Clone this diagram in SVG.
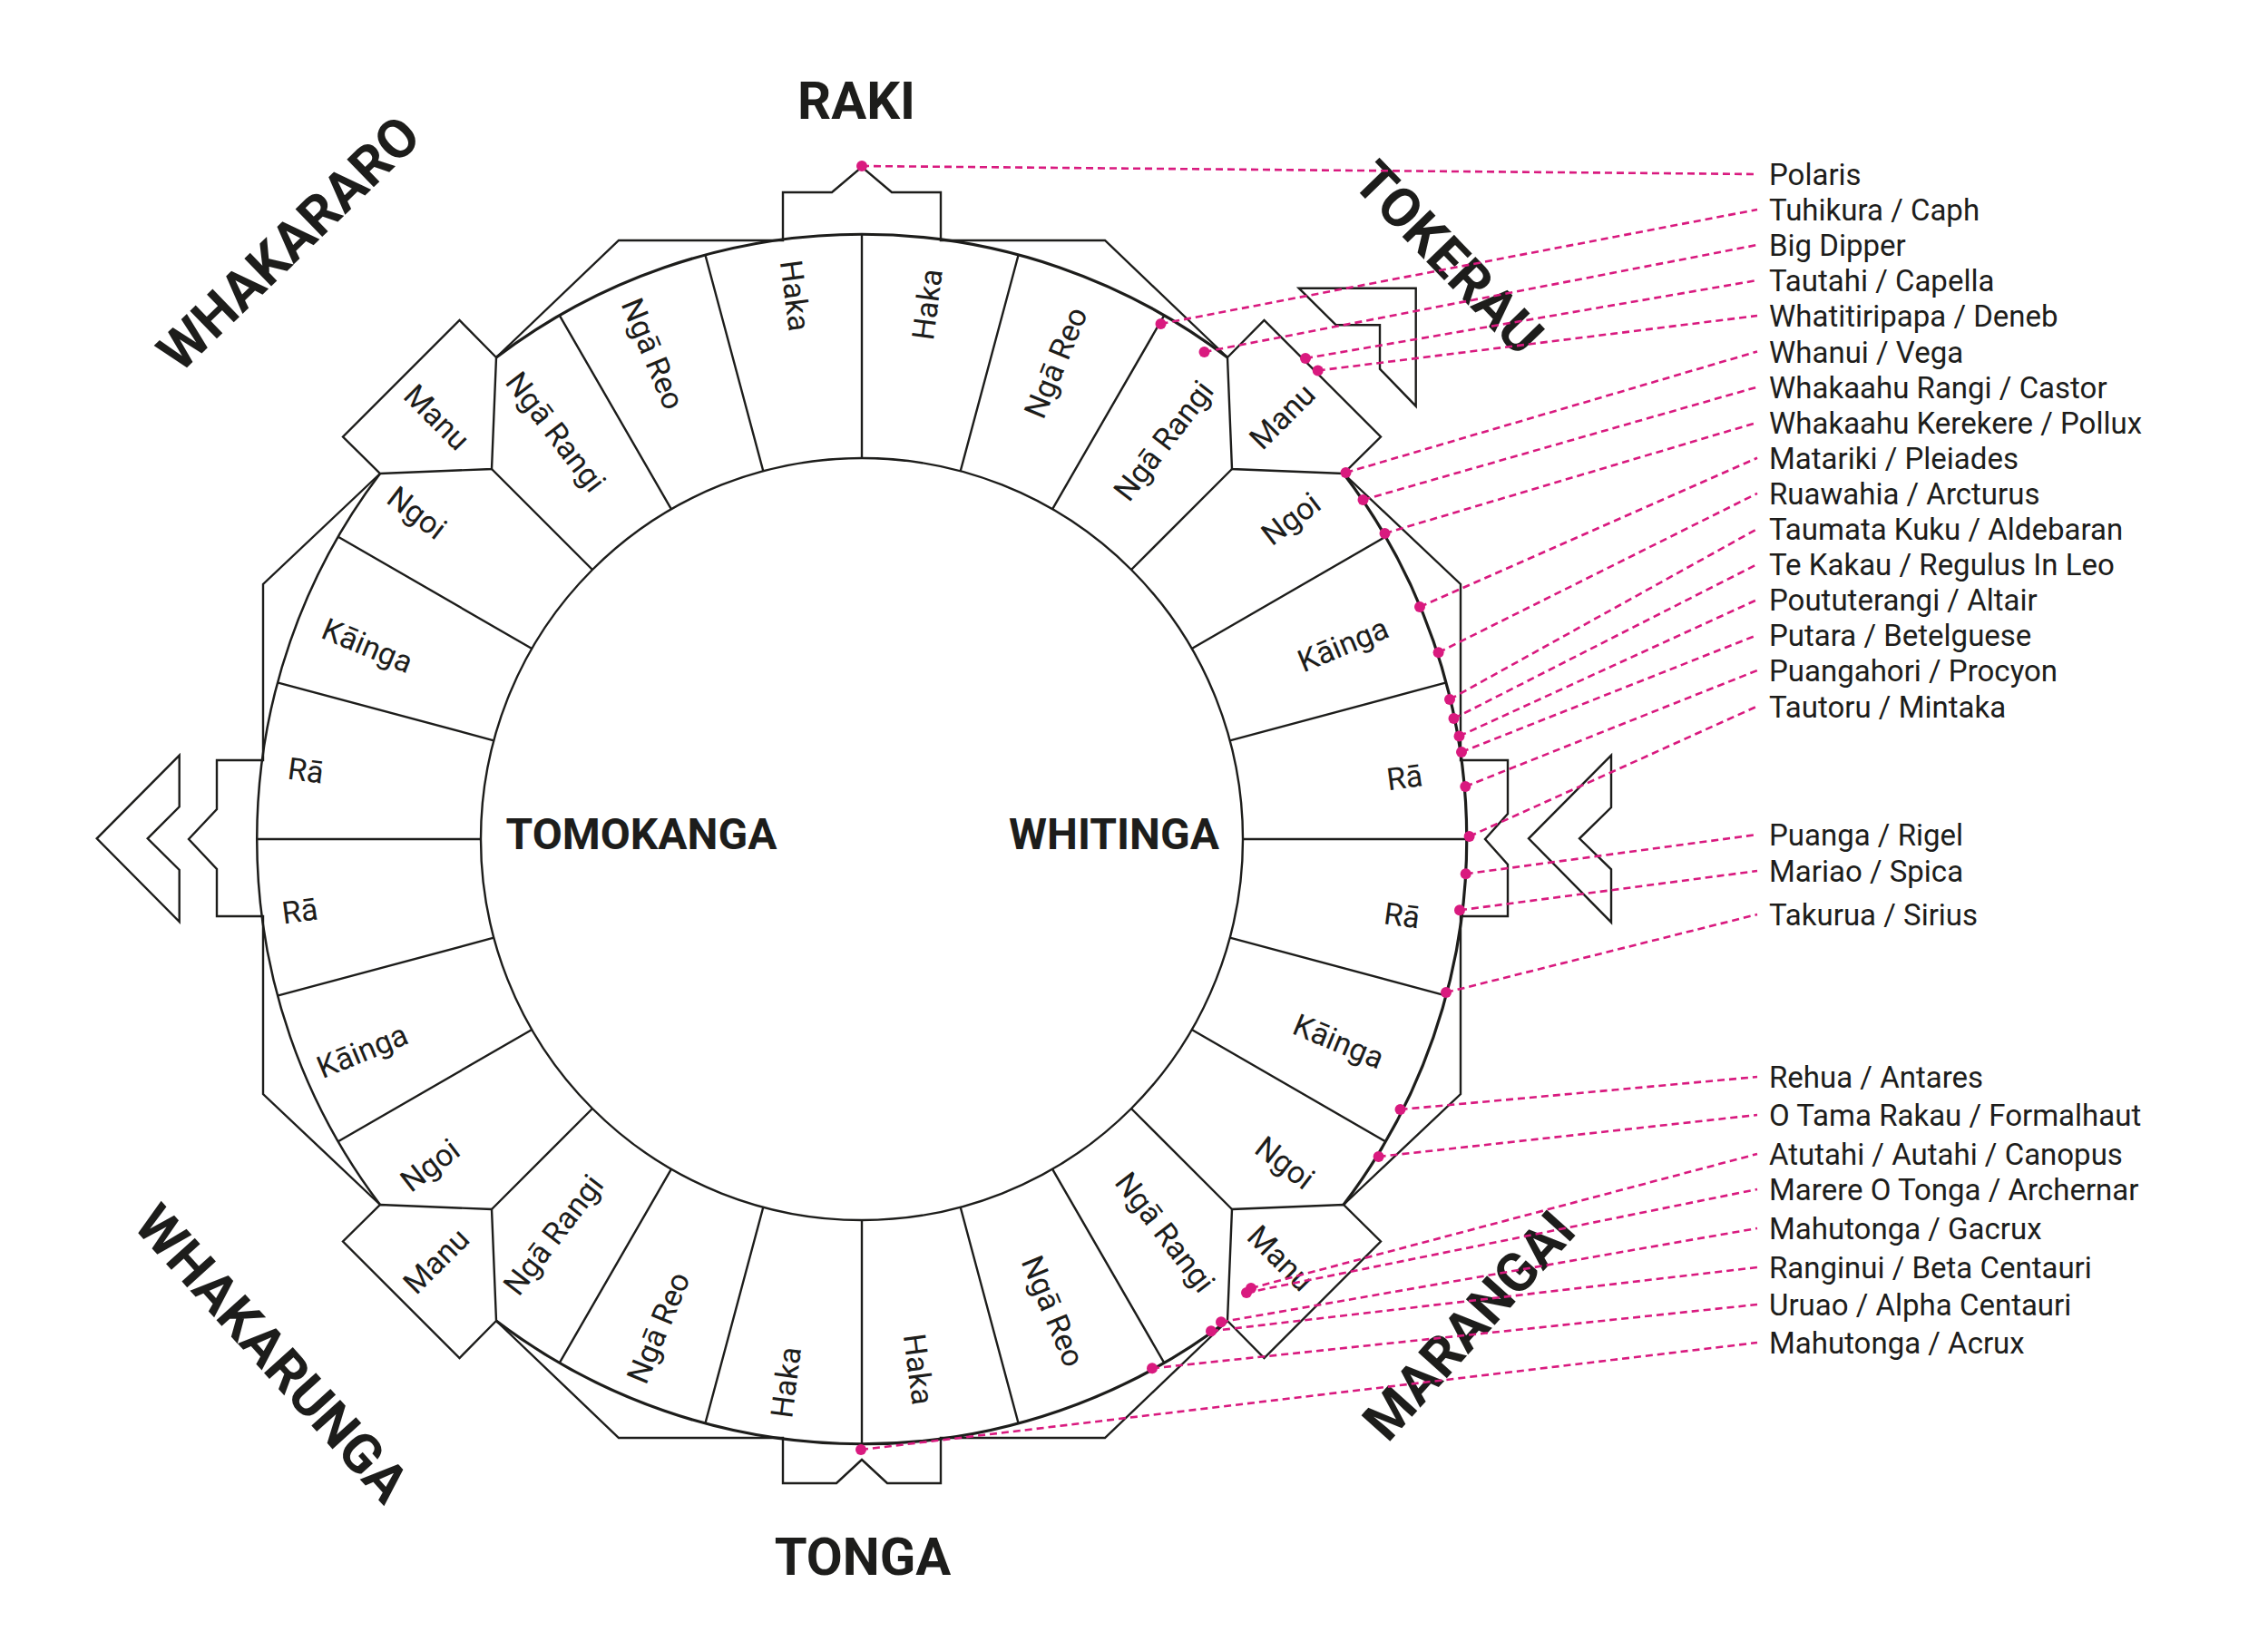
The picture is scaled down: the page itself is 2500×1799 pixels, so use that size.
<svg xmlns="http://www.w3.org/2000/svg" width="2500" height="1799" viewBox="0 0 2500 1799">
<style>
.ln{fill:none;stroke:#1d1d1b;stroke-width:2.4;stroke-linejoin:miter;stroke-linecap:butt}
.arc{fill:none;stroke:#1d1d1b;stroke-width:3.2}
.sh{fill:#fff;stroke:#1d1d1b;stroke-width:2.4;stroke-linejoin:miter}
.sec{font-family:Roboto,"Liberation Sans",sans-serif;font-size:34px;fill:#1d1d1b;text-anchor:middle}
.star{font-family:Roboto,"Liberation Sans",sans-serif;font-size:33px;fill:#1d1d1b}
.card{font-family:Roboto,"Liberation Sans",sans-serif;font-weight:700;font-size:58px;fill:#1d1d1b;text-anchor:middle}
.diag{font-family:Roboto,"Liberation Sans",sans-serif;font-weight:700;font-size:60px;fill:#1d1d1b;text-anchor:middle}
.mid{font-family:Roboto,"Liberation Sans",sans-serif;font-weight:700;font-size:48px;fill:#1d1d1b;text-anchor:middle}
.dash{fill:none;stroke:#d91a7f;stroke-width:2.6;stroke-dasharray:8 5}
.dot{fill:#d91a7f}
</style>
<rect width="2500" height="1799" fill="#fff"/>

<g id="frame">
<path class="ln" d="M547 394 L682 265 H863 V212 H917 L950 184 L983 212 H1037 V265 H1218 L1353 394"/>
<path class="ln" d="M1481 522 L1610 644 V838 H1662 V897 L1637 925 L1662 953 V1010 H1610 V1206 L1481 1328"/>
<path class="ln" d="M1353 1456 L1218 1585 H1037 V1635 H978 L950 1609 L922 1635 H863 V1585 H682 L547 1456"/>
<path class="ln" d="M419 1328 L290 1206 V1010 H239 V958 L208 925 L239 892 V838 H290 V644 L419 522"/>
</g>

<g id="chevrons">
<polygon id="chevron-west" class="sh" points="197.7,832.7 106.7,924.3 197.7,1016 197.7,959 162.7,924.3 197.7,889.3"/>
<polygon id="chevron-east" class="sh" points="1776,832.7 1685,924.3 1776,1016.7 1776,958.3 1741,924.3 1776,890"/>
<polygon id="chevron-ne" class="sh" points="1431.7,317.7 1560.7,317.7 1560.7,447.7 1521,406.7 1521,358.3 1472.7,358.3"/>
</g>

<g id="ring">
<circle class="ln" cx="950" cy="925" r="420" fill="#fff"/>
<path class="arc" d="M547 394 A666 666 0 0 1 1353 394"/>
<path class="arc" d="M1481 522 A666 666 0 0 1 1481 1328"/>
<path class="arc" d="M1353 1456 A666 666 0 0 1 547 1456"/>
<path class="arc" d="M419 1328 A666 666 0 0 1 419 522" style="stroke-width:2.5"/>
<path class="ln" d="M1370 925 H1616 M1355.7 816.3 L1593.3 752.6 M1313.7 715 L1526.8 592 M1247 628 L1358 517 M1160 561.3 L1283 348.2 M1058.7 519.3 L1122.4 281.7 M950 505 V259
M841.3 519.3 L777.6 281.7 M740 561.3 L617 348.2 M653 628 L542 517 M586.3 715 L373.2 592 M544.3 816.3 L306.7 752.6 M530 925 H284
M544.3 1033.7 L306.7 1097.4 M586.3 1135 L373.2 1258 M653 1222 L542 1333 M740 1288.7 L617 1501.8 M841.3 1330.7 L777.6 1568.3 M950 1345 V1591
M1058.7 1330.7 L1122.4 1568.3 M1160 1288.7 L1283 1501.8 M1247 1222 L1358 1333 M1313.7 1135 L1526.8 1258 M1355.7 1033.7 L1593.3 1097.4"/>
</g>

<g id="manu-tokerau"><polygon class="sh" points="1353,394 1393.5,353 1522,481.5 1481,522 1358,517"/><text class="sec" transform="translate(1413.4 458.9) rotate(-45)" dy="0.35em">Manu</text></g>
<g id="manu-whakararo"><polygon class="sh" points="547,394 506.5,353 378,481.5 419,522 542,517"/><text class="sec" transform="translate(481.6 459.9) rotate(45)" dy="0.35em">Manu</text></g>
<g id="manu-marangai"><polygon class="sh" points="1353,1456 1393.5,1497 1522,1368.5 1481,1328 1358,1333"/><text class="sec" transform="translate(1411.5 1386.9) rotate(45)" dy="0.35em">Manu</text></g>
<g id="manu-whakarunga"><polygon class="sh" points="547,1456 506.5,1497 378,1368.5 419,1328 542,1333"/><text class="sec" transform="translate(480.7 1389.8) rotate(-45)" dy="0.35em">Manu</text></g>

<g id="houses-ne">
<text class="sec" transform="translate(1022.1 335.5) rotate(-82.5)" dy="0.35em">Haka</text>
<text class="sec" transform="translate(1163.7 399.6) rotate(-67.5)" dy="0.35em">Ngā Reo</text>
<text class="sec" transform="translate(1282.4 485.7) rotate(-52.5)" dy="0.35em">Ngā Rangi</text>
<text class="sec" transform="translate(1423 571.8) rotate(-37.5)" dy="0.35em">Ngoi</text>
<text class="sec" transform="translate(1480.4 710.5) rotate(-22.5)" dy="0.35em">Kāinga</text>
<text class="sec" transform="translate(1548.3 856.9) rotate(-7.5)" dy="0.35em">Rā</text>
</g>
<g id="houses-nw">
<text class="sec" transform="translate(876.7 325.9) rotate(82.5)" dy="0.35em">Haka</text>
<text class="sec" transform="translate(719.8 390) rotate(67.5)" dy="0.35em">Ngā Reo</text>
<text class="sec" transform="translate(612.7 476.1) rotate(52.5)" dy="0.35em">Ngā Rangi</text>
<text class="sec" transform="translate(459.6 565.1) rotate(37.5)" dy="0.35em">Ngoi</text>
<text class="sec" transform="translate(405.1 711.5) rotate(22.5)" dy="0.35em">Kāinga</text>
<text class="sec" transform="translate(337.2 849.3) rotate(7.5)" dy="0.35em">Rā</text>
</g>
<g id="houses-sw">
<text class="sec" transform="translate(330.5 1004.2) rotate(-7.5)" dy="0.35em">Rā</text>
<text class="sec" transform="translate(399.3 1158.3) rotate(-22.5)" dy="0.35em">Kāinga</text>
<text class="sec" transform="translate(474 1284.5) rotate(-37.5)" dy="0.35em">Ngoi</text>
<text class="sec" transform="translate(609.8 1361.1) rotate(-52.5)" dy="0.35em">Ngā Rangi</text>
<text class="sec" transform="translate(725.6 1463.4) rotate(-67.5)" dy="0.35em">Ngā Reo</text>
<text class="sec" transform="translate(866.2 1523.8) rotate(-82.5)" dy="0.35em">Haka</text>
</g>
<g id="houses-se">
<text class="sec" transform="translate(1545.4 1009) rotate(7.5)" dy="0.35em">Rā</text>
<text class="sec" transform="translate(1475.6 1147.8) rotate(22.5)" dy="0.35em">Kāinga</text>
<text class="sec" transform="translate(1416.3 1281.7) rotate(37.5)" dy="0.35em">Ngoi</text>
<text class="sec" transform="translate(1284.3 1358.2) rotate(52.5)" dy="0.35em">Ngā Rangi</text>
<text class="sec" transform="translate(1160.9 1445.3) rotate(67.5)" dy="0.35em">Ngā Reo</text>
<text class="sec" transform="translate(1012.6 1509.4) rotate(82.5)" dy="0.35em">Haka</text>
</g>

<g id="centre-labels">
<text class="mid" x="707" y="936">TOMOKANGA</text>
<text class="mid" x="1228" y="936">WHITINGA</text>
</g>

<g id="cardinal-labels">
<text id="raki" class="card" x="944" y="131">RAKI</text>
<text id="tonga" class="card" x="951" y="1736">TONGA</text>
<text id="whakararo" class="diag" transform="translate(318 268) rotate(-44)" y="21">WHAKARARO</text>
<text id="tokerau" class="diag" transform="translate(1597 284) rotate(46)" y="21">TOKERAU</text>
<text id="whakarunga" class="diag" transform="translate(300 1492) rotate(48)" y="21">WHAKARUNGA</text>
<text id="marangai" class="diag" transform="translate(1619 1461) rotate(-48)" y="21">MARANGAI</text>
</g>

<g id="star-labels" class="star">
<text id="s01" x="1950" y="204">Polaris</text>
<text id="s02" x="1950" y="243">Tuhikura / Caph</text>
<text id="s03" x="1950" y="282">Big Dipper</text>
<text id="s04" x="1950" y="321">Tautahi / Capella</text>
<text id="s05" x="1950" y="360">Whatitiripapa / Deneb</text>
<text id="s06" x="1950" y="399.5">Whanui / Vega</text>
<text id="s07" x="1950" y="438.6">Whakaahu Rangi / Castor</text>
<text id="s08" x="1950" y="477.7">Whakaahu Kerekere / Pollux</text>
<text id="s09" x="1950" y="516.8">Matariki / Pleiades</text>
<text id="s10" x="1950" y="555.9">Ruawahia / Arcturus</text>
<text id="s11" x="1950" y="595">Taumata Kuku / Aldebaran</text>
<text id="s12" x="1950" y="634">Te Kakau / Regulus In Leo</text>
<text id="s13" x="1950" y="673">Poututerangi / Altair</text>
<text id="s14" x="1950" y="712">Putara / Betelguese</text>
<text id="s15" x="1950" y="751">Puangahori / Procyon</text>
<text id="s16" x="1950" y="790.5">Tautoru / Mintaka</text>
<text id="s17" x="1950" y="932">Puanga / Rigel</text>
<text id="s18" x="1950" y="972">Mariao / Spica</text>
<text id="s19" x="1950" y="1020">Takurua / Sirius</text>
<text id="s20" x="1950" y="1199">Rehua / Antares</text>
<text id="s21" x="1950" y="1241">O Tama Rakau / Formalhaut</text>
<text id="s22" x="1950" y="1284">Atutahi / Autahi / Canopus</text>
<text id="s23" x="1950" y="1323">Marere O Tonga / Archernar</text>
<text id="s24" x="1950" y="1366">Mahutonga / Gacrux</text>
<text id="s25" x="1950" y="1409">Ranginui / Beta Centauri</text>
<text id="s26" x="1950" y="1450">Uruao / Alpha Centauri</text>
<text id="s27" x="1950" y="1492">Mahutonga / Acrux</text>
</g>

<g id="connectors">
<path class="dash" d="M950 183 L1937 192"/>
<path class="dash" d="M1279.5 357 L1937 231"/>
<path class="dash" d="M1327.5 388 L1937 270"/>
<path class="dash" d="M1439 395 L1937 309"/>
<path class="dash" d="M1452.7 408.5 L1937 348"/>
<path class="dash" d="M1483.5 521 L1937 387.5"/>
<path class="dash" d="M1502.5 551 L1937 426.6"/>
<path class="dash" d="M1526.5 588 L1937 465.7"/>
<path class="dash" d="M1565 669 L1937 504.8"/>
<path class="dash" d="M1585.6 719.3 L1937 543.9"/>
<path class="dash" d="M1598 771 L1937 583"/>
<path class="dash" d="M1602.5 792 L1937 622"/>
<path class="dash" d="M1608.5 811.5 L1937 661"/>
<path class="dash" d="M1611 829 L1937 700"/>
<path class="dash" d="M1615.3 867 L1937 739"/>
<path class="dash" d="M1619.6 922 L1937 778.5"/>
<path class="dash" d="M1615.7 963.3 L1937 920"/>
<path class="dash" d="M1609 1003.3 L1937 960"/>
<path class="dash" d="M1594 1094 L1937 1008"/>
<path class="dash" d="M1543.5 1223 L1937 1187"/>
<path class="dash" d="M1519.6 1275 L1937 1229"/>
<path class="dash" d="M1379 1420 L1937 1272"/>
<path class="dash" d="M1374 1425 L1937 1311"/>
<path class="dash" d="M1346 1457.3 L1937 1354"/>
<path class="dash" d="M1335 1467.3 L1937 1397"/>
<path class="dash" d="M1270 1508.3 L1937 1438"/>
<path class="dash" d="M949 1598 L1937 1480"/>
</g>

<g id="star-dots" class="dot">
<circle cx="950" cy="183" r="6"/>
<circle cx="1279.5" cy="357" r="6"/>
<circle cx="1327.5" cy="388" r="6"/>
<circle cx="1439" cy="395" r="6"/>
<circle cx="1452.7" cy="408.5" r="6"/>
<circle cx="1483.5" cy="521" r="6"/>
<circle cx="1502.5" cy="551" r="6"/>
<circle cx="1526.5" cy="588" r="6"/>
<circle cx="1565" cy="669" r="6"/>
<circle cx="1585.6" cy="719.3" r="6"/>
<circle cx="1598" cy="771" r="6"/>
<circle cx="1602.5" cy="792" r="6"/>
<circle cx="1608.5" cy="811.5" r="6"/>
<circle cx="1611" cy="829" r="6"/>
<circle cx="1615.3" cy="867" r="6"/>
<circle cx="1619.6" cy="922" r="6"/>
<circle cx="1615.7" cy="963.3" r="6"/>
<circle cx="1609" cy="1003.3" r="6"/>
<circle cx="1594" cy="1094" r="6"/>
<circle cx="1543.5" cy="1223" r="6"/>
<circle cx="1519.6" cy="1275" r="6"/>
<circle cx="1379" cy="1420" r="6"/>
<circle cx="1374" cy="1425" r="6"/>
<circle cx="1346" cy="1457.3" r="6"/>
<circle cx="1335" cy="1467.3" r="6"/>
<circle cx="1270" cy="1508.3" r="6"/>
<circle cx="949" cy="1598" r="6"/>
</g>
</svg>
